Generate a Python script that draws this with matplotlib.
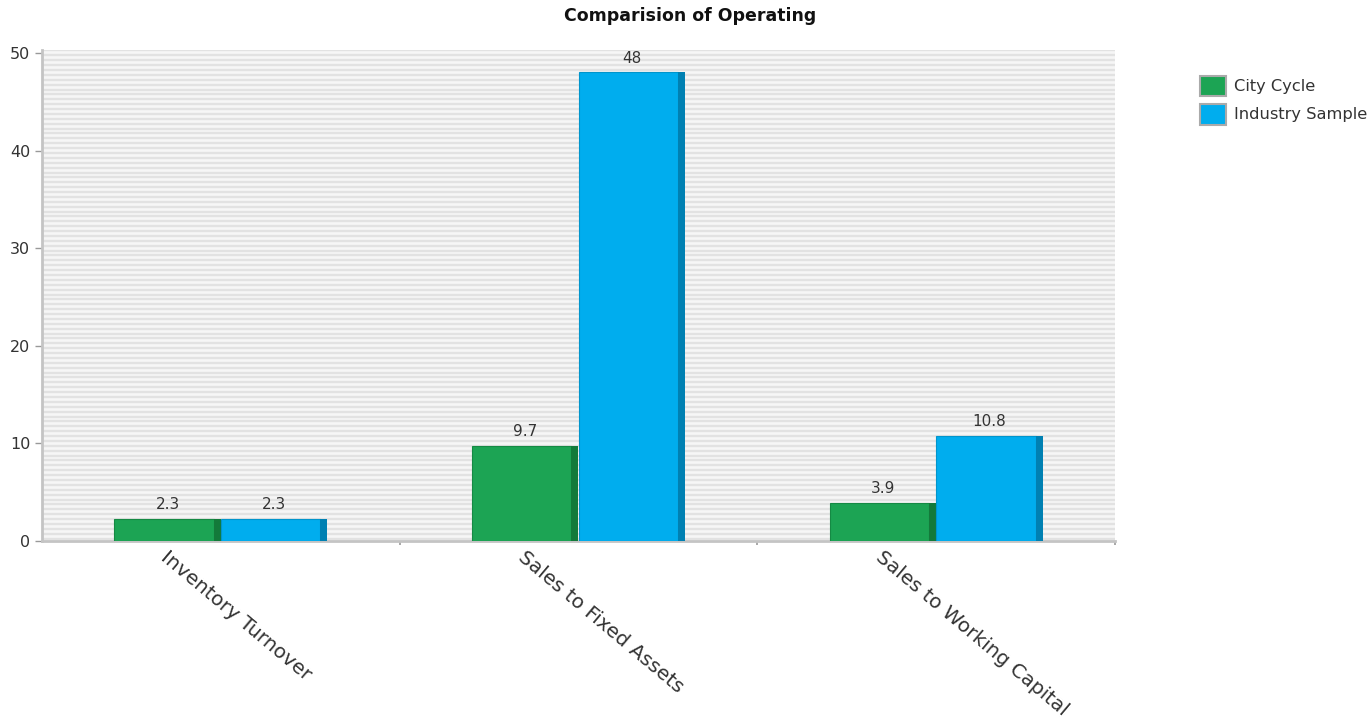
import numpy as np
import matplotlib
matplotlib.use("Agg")
import matplotlib.pyplot as plt
import matplotlib.patches as mpatches
from matplotlib.transforms import offset_copy

categories = ["Inventory Turnover", "Sales to Fixed Assets", "Sales to Working Capital"]
city_cycle = [2.3, 9.7, 3.9]
industry_sample = [2.3, 48, 10.8]
series_names = ["City Cycle", "Industry Sample"]

face_colors = ["#1ca454", "#00adee"]
side_colors = ["#137a3a", "#0080b2"]
edge_colors = ["#158a44", "#0095cc"]

fig = plt.figure(figsize=(13.72, 7.2), dpi=100)
ax = fig.add_axes([42 / 1372, 179 / 720, 1073 / 1372, 491 / 720])

# striped plot background
ax.set_facecolor("#f6f6f6")
for y in np.arange(0.25, 50.5, 0.5):
    ax.axhline(y, color="#e2e2e2", linewidth=1.7, zorder=0)

x = np.arange(len(categories))
bar_w = 0.298
side_w = 0.02
for i, vals in enumerate([city_cycle, industry_sample]):
    left = x - bar_w + i * bar_w
    ax.bar(left, vals, width=bar_w - side_w, align="edge",
           color=face_colors[i], edgecolor=edge_colors[i], linewidth=0.8, zorder=3)
    ax.bar(left + bar_w - side_w, vals, width=side_w, align="edge",
           color=side_colors[i], linewidth=0, zorder=3)
    for xi, v in zip(left, vals):
        ax.annotate(f"{v:g}", (xi + bar_w / 2, v), xytext=(0, 5),
                    textcoords="offset points", ha="center", va="bottom",
                    fontsize=11, color="#333333")

ax.set_xlim(-0.5, 2.5)
ax.set_ylim(0, 50.3)
ax.set_yticks(range(0, 51, 10))
ax.set_xticks([0.5, 1.5, 2.5])
ax.set_xticklabels([])
ax.tick_params(axis="y", labelsize=11.5, colors="#999999", labelcolor="#333333",
               length=5, width=1)
ax.tick_params(axis="x", colors="#999999", length=3, width=1.2)

for side in ["top", "right"]:
    ax.spines[side].set_visible(False)
ax.spines["left"].set_color("#c4c4c4")
ax.spines["left"].set_linewidth(2)
ax.spines["bottom"].set_color("#c4c4c4")
ax.spines["bottom"].set_linewidth(2)

# rotated category labels under each group
for xi, name in zip(x, categories):
    tr = offset_copy(ax.get_xaxis_transform(), fig=fig, x=0, y=-5, units="points")
    ax.text(xi - 0.145, 0, name, transform=tr, rotation=-40,
            rotation_mode="anchor", ha="left", va="top",
            fontsize=14.4, color="#333333")

fig.text(0.503, 0.978, "Comparision of Operating", ha="center", va="center",
         fontsize=12.5, fontweight="bold", color="#111111")

handles = [mpatches.Patch(facecolor=c, edgecolor="#aaaaaa", linewidth=1.5, label=n)
           for c, n in zip(face_colors, series_names)]
fig.legend(handles=handles, loc="upper left", bbox_to_anchor=(1193 / 1372, 1 - 69 / 720),
           frameon=False, fontsize=11.7, handlelength=1.6, handleheight=1.6,
           handletextpad=0.5, labelspacing=0.45, borderaxespad=0,
           labelcolor="#333333")

fig.savefig("out.png", dpi=100)
